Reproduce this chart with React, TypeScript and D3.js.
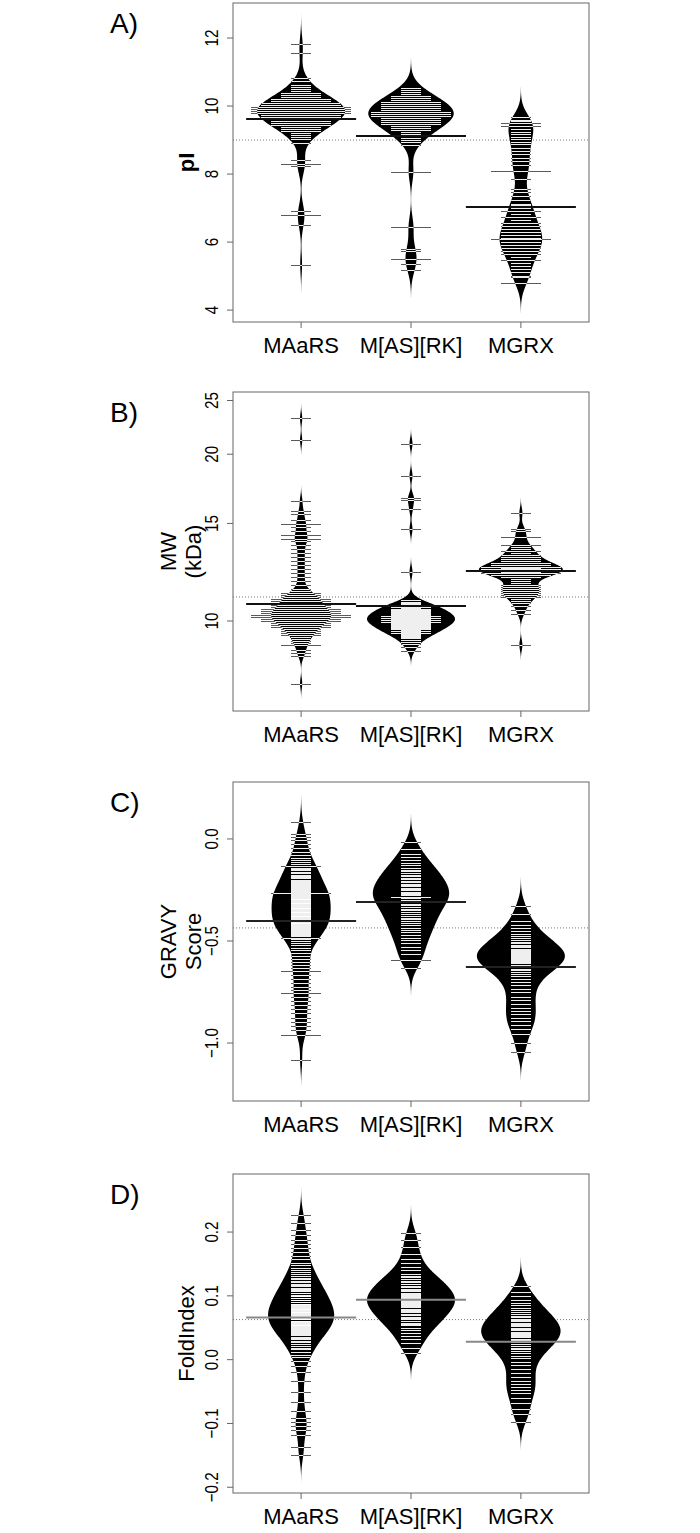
import React from 'react';
import * as d3 from 'd3';

// categories
const groups = ['MAaRS', 'M[AS][RK]', 'MGRX'];

// A) pI  -- [value, number of proteins with that value]
const pI_MAaRS = [[11.83,1],[11.57,1],[10.83,1],[10.74,1],[10.62,1],[10.56,1],[10.5,1],[10.44,1],[10.38,2],[10.32,2],[10.26,2],[10.21,3],[10.15,3],[10.09,4],[10.03,4],[9.97,5],[9.91,5],[9.85,5],[9.79,5],[9.74,4],[9.68,4],[9.62,4],[9.56,3],[9.5,3],[9.44,3],[9.38,2],[9.32,2],[9.26,2],[9.21,1],[9.15,1],[9.09,1],[9.03,1],[8.91,1],[8.41,1],[8.29,2],[8.24,1],[6.92,1],[6.79,2],[6.5,1],[5.34,1]];
const pI_MASRK = [[10.53,1],[10.47,1],[10.41,1],[10.35,1],[10.29,2],[10.24,2],[10.18,2],[10.12,3],[10.06,3],[10.0,3],[9.94,3],[9.88,3],[9.82,4],[9.76,4],[9.71,4],[9.65,3],[9.59,3],[9.53,3],[9.47,3],[9.41,2],[9.35,2],[9.29,2],[9.24,1],[9.18,1],[9.12,1],[9.06,1],[9.0,1],[8.94,1],[8.85,1],[8.07,2],[6.45,2],[5.81,1],[5.75,1],[5.5,2],[5.37,1],[5.18,1]];
const pI_MGRX = [[9.67,1],[9.6,1],[9.55,1],[9.49,2],[9.41,2],[9.33,1],[9.25,1],[9.18,1],[9.1,1],[9.02,1],[8.95,1],[8.87,1],[8.78,1],[8.68,1],[8.58,1],[8.48,1],[8.38,1],[8.28,1],[8.1,3],[7.85,1],[7.55,1],[7.47,1],[7.35,1],[7.24,1],[7.12,1],[7.09,1],[7.0,1],[6.91,2],[6.82,1],[6.74,2],[6.65,1],[6.56,2],[6.47,2],[6.38,2],[6.29,2],[6.21,2],[6.12,2],[6.08,3],[6.0,2],[5.91,2],[5.82,2],[5.74,2],[5.65,2],[5.56,1],[5.47,2],[5.38,1],[5.29,1],[5.21,1],[5.12,1],[5.0,1],[4.98,1],[4.81,2]];
const pIMeans = [9.62, 9.12, 7.03];
const pIOverall = 9.0;
const pITicks = [4, 6, 8, 10, 12];

// B) MW (kDa)
const mw_MAaRS = [[23.2,1],[21.2,1],[16.5,1],[15.8,1],[15.6,1],[15.23,1],[14.96,2],[14.79,1],[14.55,1],[14.27,2],[14.07,2],[13.95,1],[13.72,1],[13.5,1],[13.27,1],[13.05,1],[12.84,1],[12.63,1],[12.42,1],[12.21,1],[12.01,1],[11.81,1],[11.62,1],[11.43,1],[11.33,1],[11.24,2],[11.14,2],[11.05,2],[10.96,3],[10.87,3],[10.78,3],[10.69,3],[10.6,3],[10.51,4],[10.42,4],[10.34,4],[10.25,5],[10.17,5],[10.08,4],[10.0,4],[9.92,3],[9.83,3],[9.75,3],[9.67,2],[9.59,2],[9.51,2],[9.43,2],[9.36,1],[9.28,1],[9.2,1],[9.13,1],[9.05,2],[8.86,1],[8.75,1],[8.64,1],[7.71,1]];
const mw_MASRK = [[20.9,1],[18.3,1],[16.7,1],[16.55,1],[15.9,1],[14.65,1],[12.26,1],[10.91,1],[10.82,1],[10.78,1],[10.73,1],[10.69,2],[10.65,1],[10.6,2],[10.56,1],[10.51,2],[10.47,2],[10.43,2],[10.38,2],[10.34,2],[10.3,2],[10.25,2],[10.21,3],[10.17,2],[10.13,3],[10.08,2],[10.04,3],[10.0,2],[9.96,3],[9.92,2],[9.88,2],[9.84,2],[9.79,2],[9.75,2],[9.71,2],[9.67,2],[9.63,1],[9.59,2],[9.55,1],[9.51,2],[9.47,1],[9.43,1],[9.4,1],[9.36,1],[9.32,1],[9.24,1],[9.16,1],[9.09,1],[8.98,1],[8.83,1]];
const mw_MGRX = [[15.67,1],[14.67,1],[14.55,1],[14.19,2],[13.72,2],[13.61,1],[13.5,1],[13.38,2],[13.27,1],[13.16,2],[13.05,2],[12.95,2],[12.84,2],[12.73,3],[12.63,3],[12.52,4],[12.47,2],[12.42,4],[12.36,2],[12.31,4],[12.26,2],[12.21,4],[12.11,3],[12.01,2],[11.91,1],[11.81,1],[11.72,1],[11.62,2],[11.52,2],[11.43,2],[11.33,2],[11.24,2],[11.14,2],[11.05,2],[10.96,1],[10.87,1],[10.78,1],[10.65,1],[10.47,1],[10.3,1],[9.05,1]];
const mwMeans = [10.73, 10.64, 12.31];
const mwOverall = 11.05;
const mwTicks = [10, 15, 20, 25];

// C) GRAVY score
const gravy_MAaRS = [[0.082,1],[0.025,1],[0.01,1],[-0.005,1],[-0.025,1],[-0.045,1],[-0.062,1],[-0.078,1],[-0.092,1],[-0.104,1],[-0.115,1],[-0.124,1],[-0.131,2],[-0.14,1],[-0.147,1],[-0.154,1],[-0.161,1],[-0.168,1],[-0.175,1],[-0.181,1],[-0.187,1],[-0.193,1],[-0.199,1],[-0.205,1],[-0.21,1],[-0.215,1],[-0.22,1],[-0.225,1],[-0.23,1],[-0.235,1],[-0.24,1],[-0.245,1],[-0.25,1],[-0.255,1],[-0.26,1],[-0.266,3],[-0.27,1],[-0.275,1],[-0.28,1],[-0.284,1],[-0.288,1],[-0.292,1],[-0.296,1],[-0.3,1],[-0.304,1],[-0.308,1],[-0.312,1],[-0.316,1],[-0.32,1],[-0.324,1],[-0.328,1],[-0.332,1],[-0.336,1],[-0.34,1],[-0.344,1],[-0.348,1],[-0.352,1],[-0.356,1],[-0.36,1],[-0.364,1],[-0.368,1],[-0.372,1],[-0.376,1],[-0.38,1],[-0.384,1],[-0.388,1],[-0.392,1],[-0.396,1],[-0.402,2],[-0.406,1],[-0.41,1],[-0.414,1],[-0.418,1],[-0.422,1],[-0.426,1],[-0.43,1],[-0.435,1],[-0.44,1],[-0.445,1],[-0.45,1],[-0.455,1],[-0.46,1],[-0.466,1],[-0.472,1],[-0.478,1],[-0.484,2],[-0.492,1],[-0.5,1],[-0.51,1],[-0.52,1],[-0.532,1],[-0.545,1],[-0.56,1],[-0.575,1],[-0.59,1],[-0.605,1],[-0.62,1],[-0.633,1],[-0.646,2],[-0.665,1],[-0.685,1],[-0.705,1],[-0.725,1],[-0.742,1],[-0.757,2],[-0.775,1],[-0.795,1],[-0.815,1],[-0.835,1],[-0.855,1],[-0.875,1],[-0.895,1],[-0.915,1],[-0.935,1],[-0.961,2],[-1.083,1]];
const gravy_MASRK = [[-0.015,1],[-0.05,1],[-0.072,1],[-0.09,1],[-0.105,1],[-0.118,1],[-0.13,1],[-0.14,1],[-0.15,1],[-0.159,1],[-0.168,1],[-0.176,1],[-0.184,1],[-0.191,1],[-0.198,1],[-0.205,1],[-0.212,1],[-0.219,1],[-0.226,1],[-0.232,1],[-0.239,1],[-0.245,1],[-0.252,1],[-0.258,1],[-0.265,1],[-0.271,1],[-0.277,1],[-0.283,2],[-0.29,1],[-0.297,1],[-0.304,1],[-0.311,1],[-0.318,1],[-0.326,1],[-0.334,1],[-0.342,1],[-0.35,1],[-0.358,1],[-0.367,1],[-0.376,1],[-0.385,1],[-0.394,1],[-0.404,1],[-0.414,1],[-0.424,1],[-0.435,1],[-0.446,1],[-0.458,1],[-0.47,1],[-0.483,1],[-0.497,1],[-0.512,1],[-0.528,1],[-0.545,1],[-0.565,1],[-0.593,2],[-0.63,1]];
const gravy_MGRX = [[-0.328,1],[-0.37,1],[-0.4,1],[-0.42,1],[-0.438,1],[-0.452,1],[-0.465,1],[-0.476,1],[-0.486,1],[-0.495,1],[-0.503,1],[-0.511,1],[-0.518,1],[-0.525,1],[-0.531,1],[-0.537,1],[-0.543,1],[-0.549,1],[-0.554,1],[-0.559,1],[-0.564,1],[-0.569,1],[-0.574,1],[-0.579,1],[-0.584,1],[-0.589,1],[-0.594,1],[-0.599,1],[-0.604,1],[-0.61,1],[-0.616,1],[-0.622,1],[-0.628,1],[-0.635,1],[-0.643,1],[-0.652,1],[-0.662,1],[-0.673,1],[-0.686,1],[-0.7,1],[-0.716,1],[-0.733,1],[-0.752,1],[-0.772,1],[-0.79,1],[-0.808,1],[-0.826,1],[-0.843,1],[-0.86,1],[-0.876,1],[-0.893,1],[-0.91,1],[-0.93,1],[-0.955,1],[-0.998,1],[-1.043,1]];
const gravyMeans = [-0.402, -0.309, -0.627];
const gravyOverall = -0.436;
const gravyTicks = [-1.0, -0.5, 0.0];

// D) FoldIndex
const fold_MAaRS = [[0.227,1],[0.214,1],[0.203,1],[0.195,1],[0.188,1],[0.181,1],[0.175,1],[0.169,1],[0.163,1],[0.157,1],[0.152,1],[0.148,1],[0.144,1],[0.14,1],[0.137,1],[0.134,1],[0.131,1],[0.128,1],[0.126,1],[0.123,1],[0.121,1],[0.119,1],[0.117,1],[0.115,1],[0.113,1],[0.111,1],[0.109,1],[0.107,1],[0.105,1],[0.104,1],[0.102,1],[0.1,1],[0.099,1],[0.097,1],[0.096,1],[0.094,1],[0.093,1],[0.091,1],[0.09,1],[0.088,1],[0.087,1],[0.085,1],[0.084,1],[0.083,1],[0.081,1],[0.08,1],[0.079,1],[0.078,1],[0.076,1],[0.075,1],[0.074,1],[0.073,1],[0.071,1],[0.07,1],[0.069,1],[0.068,1],[0.066,1],[0.065,1],[0.064,1],[0.063,1],[0.061,1],[0.06,1],[0.059,1],[0.058,1],[0.056,1],[0.055,1],[0.054,1],[0.052,1],[0.051,1],[0.05,1],[0.048,1],[0.047,1],[0.045,1],[0.044,1],[0.042,1],[0.04,1],[0.038,1],[0.036,1],[0.034,1],[0.032,1],[0.03,1],[0.027,1],[0.025,1],[0.022,1],[0.019,1],[0.016,1],[0.012,1],[0.008,1],[0.004,1],[-0.002,1],[-0.01,1],[-0.02,1],[-0.033,1],[-0.05,1],[-0.066,1],[-0.08,1],[-0.091,1],[-0.098,1],[-0.104,1],[-0.11,1],[-0.118,1],[-0.137,1],[-0.149,1]];
const fold_MASRK = [[0.199,1],[0.188,1],[0.176,1],[0.166,1],[0.158,1],[0.151,1],[0.145,1],[0.14,1],[0.135,1],[0.131,1],[0.129,1],[0.127,1],[0.124,1],[0.121,1],[0.119,1],[0.118,1],[0.116,1],[0.114,1],[0.111,1],[0.109,1],[0.107,1],[0.105,1],[0.103,1],[0.101,1],[0.1,1],[0.098,1],[0.097,1],[0.095,1],[0.094,1],[0.092,1],[0.091,1],[0.089,1],[0.088,1],[0.086,1],[0.084,1],[0.082,1],[0.08,1],[0.078,1],[0.077,1],[0.075,1],[0.072,1],[0.07,1],[0.067,1],[0.066,1],[0.064,1],[0.061,1],[0.058,1],[0.056,1],[0.054,1],[0.05,1],[0.046,1],[0.042,1],[0.037,1],[0.032,1],[0.026,1],[0.019,1],[0.011,1]];
const fold_MGRX = [[0.116,1],[0.106,1],[0.099,1],[0.094,1],[0.089,1],[0.085,1],[0.081,1],[0.078,1],[0.075,1],[0.072,1],[0.069,1],[0.067,1],[0.064,1],[0.062,1],[0.06,1],[0.058,1],[0.056,1],[0.054,1],[0.052,1],[0.05,1],[0.048,1],[0.046,1],[0.044,1],[0.042,1],[0.041,1],[0.039,1],[0.037,1],[0.035,1],[0.033,1],[0.031,1],[0.029,1],[0.027,1],[0.025,1],[0.022,1],[0.019,1],[0.016,1],[0.013,1],[0.01,1],[0.006,1],[0.002,1],[-0.003,1],[-0.009,1],[-0.015,1],[-0.021,1],[-0.027,1],[-0.033,1],[-0.038,1],[-0.043,1],[-0.048,1],[-0.053,1],[-0.06,1],[-0.068,1],[-0.077,1],[-0.085,1],[-0.097,1]];
const foldMeans = [0.066, 0.094, 0.028];
const foldOverall = 0.0628;
const foldTicks = [-0.2, -0.1, 0.0, 0.1, 0.2];

const minus = (d) => d.toFixed(1).replace('-', '\u2212');

const panels = [
  { letter: 'A)', title: ['pI'], bold: true, top: 3, log: false, domain: [3.65, 13.03], bw: 0.3,
    data: [pI_MAaRS, pI_MASRK, pI_MGRX], means: pIMeans, overall: pIOverall, ticks: pITicks, fmt: (d) => String(d), meanCol: '#111' },
  { letter: 'B)', title: ['MW', '(kDa)'], bold: false, top: 392, log: true, domain: [6.88, 25.9], bw: 0.0095,
    data: [mw_MAaRS, mw_MASRK, mw_MGRX], means: mwMeans, overall: mwOverall, ticks: mwTicks, fmt: (d) => String(d), meanCol: '#111' },
  { letter: 'C)', title: ['GRAVY', 'Score'], bold: false, top: 782, log: false, domain: [-1.284, 0.279], bw: 0.047,
    data: [gravy_MAaRS, gravy_MASRK, gravy_MGRX], means: gravyMeans, overall: gravyOverall, ticks: gravyTicks, fmt: minus, meanCol: '#222' },
  { letter: 'D)', title: ['FoldIndex'], bold: false, top: 1174, log: false, domain: [-0.209, 0.291], bw: 0.0147,
    data: [fold_MAaRS, fold_MASRK, fold_MGRX], means: foldMeans, overall: foldOverall, ticks: foldTicks, fmt: minus, meanCol: '#888' },
];

const boxLeft = 233;
const boxRight = 589;
const boxH = 319;
const maxHalf = 44;     // half width of the widest bean
const unitLine = 10;    // half length of a beanline per data point
const maxLine = 53;
const font = 'Liberation Sans, Arial, Helvetica, sans-serif';

// gaussian kernel density on (possibly log) values, weighted by counts
const kde = (pts, bw, tf) => {
  const vals = pts.map(([v, c]) => [tf(v), c]);
  const lo = d3.min(vals, (d) => d[0]) - 3 * bw;
  const hi = d3.max(vals, (d) => d[0]) + 3 * bw;
  const total = d3.sum(vals, (d) => d[1]);
  const n = 400;
  const out = [];
  for (let i = 0; i < n; i++) {
    const t = lo + (hi - lo) * i / (n - 1);
    let s = 0;
    for (const [v, c] of vals) {
      const z = (t - v) / bw;
      s += c * Math.exp(-0.5 * z * z);
    }
    out.push([t, s / (total * bw * Math.sqrt(2 * Math.PI))]);
  }
  return out;
};

// snap a 1px line onto a pixel row so it renders crisp
const snap = (v) => Math.round(v) + 0.5;

const Panel = ({ p, idx }) => {
  const y = (p.log ? d3.scaleLog() : d3.scaleLinear()).domain(p.domain).range([p.top + boxH, p.top]);
  const x = d3.scaleLinear().domain([0.38, 3.62]).range([boxLeft, boxRight]);
  const tf = p.log ? Math.log10 : (v) => v;
  const inv = p.log ? (t) => Math.pow(10, t) : (t) => t;
  const dens = p.data.map((pts) => kde(pts, p.bw, tf));
  const maxD = d3.max(dens, (d) => d3.max(d, (e) => e[1]));
  const w = maxHalf / maxD;
  const bottom = p.top + boxH;
  const nt = p.title.length;

  return (
    <g>
      <text x={110} y={p.top + 30} fontSize={28} fontFamily={font}>{p.letter}</text>
      {/* overall mean */}
      <line x1={boxLeft} x2={boxRight} y1={y(p.overall)} y2={y(p.overall)} stroke="#777" strokeWidth={1} strokeDasharray="1,2" />
      {dens.map((d, gi) => {
        const cx = x(gi + 1);
        const area = d3.area().y((e) => y(inv(e[0]))).x0((e) => cx - e[1] * w).x1((e) => cx + e[1] * w);
        const path = area(d);
        const id = `clip-${idx}-${gi}`;
        const pts = p.data[gi];
        return (
          <g key={gi}>
            <clipPath id={id}><path d={path} /></clipPath>
            <path d={path} fill="#000" />
            <g shapeRendering="crispEdges">
              {pts.map(([v, c], k) => {
                const h = Math.min(c * unitLine, maxLine);
                return <line key={k} x1={cx - h} x2={cx + h} y1={snap(y(v))} y2={snap(y(v))} stroke="#5a5a5a" strokeWidth={1} />;
              })}
            </g>
            <g clipPath={`url(#${id})`} shapeRendering="crispEdges">
              {pts.map(([v, c], k) => {
                const h = Math.min(c * unitLine, maxLine);
                return <line key={k} x1={cx - h} x2={cx + h} y1={snap(y(v))} y2={snap(y(v))} stroke="#fff" strokeWidth={1} opacity={0.9} />;
              })}
            </g>
            <line x1={cx - 55} x2={cx + 55} y1={y(p.means[gi])} y2={y(p.means[gi])} stroke={p.meanCol} strokeWidth={2} />
          </g>
        );
      })}
      <rect x={boxLeft} y={p.top} width={boxRight - boxLeft} height={boxH} fill="none" stroke="#666" strokeWidth={1} />
      {p.ticks.map((t) => (
        <g key={t}>
          <line x1={boxLeft - 6} x2={boxLeft} y1={y(t)} y2={y(t)} stroke="#666" />
          <text transform={`translate(218,${y(t)}) rotate(-90) scale(0.8,1)`} textAnchor="middle" fontSize={19} fontFamily={font}>{p.fmt(t)}</text>
        </g>
      ))}
      {groups.map((g, gi) => (
        <g key={g}>
          <line x1={x(gi + 1)} x2={x(gi + 1)} y1={bottom} y2={bottom + 6} stroke="#666" />
          <text x={x(gi + 1)} y={bottom + 31} textAnchor="middle" fontSize={22} fontFamily={font}>{g}</text>
        </g>
      ))}
      {p.title.map((t, ti) => {
        const tx = nt === 1 ? 194 : 176 + ti * 25;
        return (
          <text key={ti} transform={`translate(${tx},${p.top + boxH / 2}) rotate(-90)`} textAnchor="middle"
            fontSize={22} fontWeight={p.bold ? 'bold' : 'normal'} fontFamily={font}>{t}</text>
        );
      })}
    </g>
  );
};

export default function App() {
  return (
    <svg width={700} height={1533} style={{ position: 'absolute', left: 0, top: 0, background: '#fff' }}>
      <rect width={700} height={1533} fill="#fff" />
      {panels.map((p, i) => <Panel key={i} p={p} idx={i} />)}
    </svg>
  );
}
